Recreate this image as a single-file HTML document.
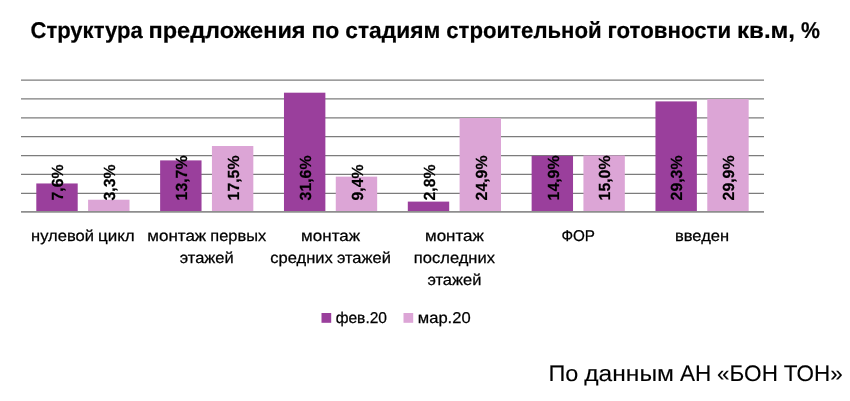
<!DOCTYPE html>
<html lang="ru"><head><meta charset="utf-8"><title>Структура предложения</title>
<style>html,body{margin:0;padding:0;background:#fff}svg{display:block}text{font-family:"Liberation Sans",sans-serif;fill:#000;text-rendering:geometricPrecision}.b{font-weight:bold;stroke:#000;stroke-width:.2px}.r{stroke:#000;stroke-width:.25px}.f{stroke:#000;stroke-width:.1px}</style></head><body>
<svg width="850" height="401" viewBox="0 0 850 401">
<rect width="850" height="401" fill="#fff"/>
<line x1="21.0" x2="764.0" y1="80.10" y2="80.10" stroke="#7c7c7c" stroke-width="1.25"/>
<line x1="21.0" x2="764.0" y1="98.97" y2="98.97" stroke="#7c7c7c" stroke-width="1.25"/>
<line x1="21.0" x2="764.0" y1="117.84" y2="117.84" stroke="#7c7c7c" stroke-width="1.25"/>
<line x1="21.0" x2="764.0" y1="136.71" y2="136.71" stroke="#7c7c7c" stroke-width="1.25"/>
<line x1="21.0" x2="764.0" y1="155.58" y2="155.58" stroke="#7c7c7c" stroke-width="1.25"/>
<line x1="21.0" x2="764.0" y1="174.45" y2="174.45" stroke="#7c7c7c" stroke-width="1.25"/>
<line x1="21.0" x2="764.0" y1="193.32" y2="193.32" stroke="#7c7c7c" stroke-width="1.25"/>
<rect x="36.30" y="183.46" width="41.4" height="27.74" fill="#9a3f9c"/>
<rect x="88.10" y="199.72" width="41.4" height="11.48" fill="#dca5d6"/>
<rect x="160.13" y="160.39" width="41.4" height="50.81" fill="#9a3f9c"/>
<rect x="211.93" y="146.01" width="41.4" height="65.19" fill="#dca5d6"/>
<rect x="283.97" y="92.69" width="41.4" height="118.51" fill="#9a3f9c"/>
<rect x="335.77" y="176.65" width="41.4" height="34.55" fill="#dca5d6"/>
<rect x="407.80" y="201.61" width="41.4" height="9.59" fill="#9a3f9c"/>
<rect x="459.60" y="118.03" width="41.4" height="93.17" fill="#dca5d6"/>
<rect x="531.63" y="155.85" width="41.4" height="55.35" fill="#9a3f9c"/>
<rect x="583.43" y="155.47" width="41.4" height="55.73" fill="#dca5d6"/>
<rect x="655.47" y="101.39" width="41.4" height="109.81" fill="#9a3f9c"/>
<rect x="707.27" y="99.12" width="41.4" height="112.08" fill="#dca5d6"/>
<line x1="21.0" x2="764.0" y1="211.90" y2="211.90" stroke="#8e8e8e" stroke-width="1.6"/>
<text class="b" font-size="16.1" transform="translate(63.30,200.4) rotate(-90)" textLength="35.8" lengthAdjust="spacingAndGlyphs">7,6%</text>
<text class="b" font-size="16.1" transform="translate(115.10,200.4) rotate(-90)" textLength="35.8" lengthAdjust="spacingAndGlyphs">3,3%</text>
<text class="b" font-size="16.1" transform="translate(187.13,200.4) rotate(-90)" textLength="44.9" lengthAdjust="spacingAndGlyphs">13,7%</text>
<text class="b" font-size="16.1" transform="translate(238.93,200.4) rotate(-90)" textLength="44.9" lengthAdjust="spacingAndGlyphs">17,5%</text>
<text class="b" font-size="16.1" transform="translate(310.97,200.4) rotate(-90)" textLength="44.9" lengthAdjust="spacingAndGlyphs">31,6%</text>
<text class="b" font-size="16.1" transform="translate(362.77,200.4) rotate(-90)" textLength="35.8" lengthAdjust="spacingAndGlyphs">9,4%</text>
<text class="b" font-size="16.1" transform="translate(434.80,200.4) rotate(-90)" textLength="35.8" lengthAdjust="spacingAndGlyphs">2,8%</text>
<text class="b" font-size="16.1" transform="translate(486.60,200.4) rotate(-90)" textLength="44.9" lengthAdjust="spacingAndGlyphs">24,9%</text>
<text class="b" font-size="16.1" transform="translate(558.63,200.4) rotate(-90)" textLength="44.9" lengthAdjust="spacingAndGlyphs">14,9%</text>
<text class="b" font-size="16.1" transform="translate(610.43,200.4) rotate(-90)" textLength="44.9" lengthAdjust="spacingAndGlyphs">15,0%</text>
<text class="b" font-size="16.1" transform="translate(682.47,200.4) rotate(-90)" textLength="44.9" lengthAdjust="spacingAndGlyphs">29,3%</text>
<text class="b" font-size="16.1" transform="translate(734.27,200.4) rotate(-90)" textLength="44.9" lengthAdjust="spacingAndGlyphs">29,9%</text>
<text class="b" font-size="22.8" y="38" xml:space="preserve"><tspan x="30.50" textLength="112.16" lengthAdjust="spacingAndGlyphs">Структура</tspan> <tspan x="148.54" textLength="157.04" lengthAdjust="spacingAndGlyphs">предложения</tspan> <tspan x="311.47" textLength="27.91" lengthAdjust="spacingAndGlyphs">по</tspan> <tspan x="345.27" textLength="95.10" lengthAdjust="spacingAndGlyphs">стадиям</tspan> <tspan x="446.25" textLength="155.46" lengthAdjust="spacingAndGlyphs">строительной</tspan> <tspan x="607.60" textLength="123.56" lengthAdjust="spacingAndGlyphs">готовности</tspan> <tspan x="737.05" textLength="58.01" lengthAdjust="spacingAndGlyphs">кв.м,</tspan> <tspan x="800.95" textLength="18.98" lengthAdjust="spacingAndGlyphs">%</tspan></text>
<text class="r" font-size="15.6" y="240.9" xml:space="preserve"><tspan x="31.08" textLength="62.83" lengthAdjust="spacingAndGlyphs">нулевой</tspan> <tspan x="97.95" textLength="36.81" lengthAdjust="spacingAndGlyphs">цикл</tspan></text>
<text class="r" font-size="15.6" y="240.9" xml:space="preserve"><tspan x="147.34" textLength="58.90" lengthAdjust="spacingAndGlyphs">монтаж</tspan> <tspan x="210.28" textLength="55.88" lengthAdjust="spacingAndGlyphs">первых</tspan></text>
<text class="r" font-size="15.6" y="263.1" xml:space="preserve"><tspan x="179.78" textLength="53.95" lengthAdjust="spacingAndGlyphs">этажей</tspan></text>
<text class="r" font-size="15.6" y="240.9" xml:space="preserve"><tspan x="301.13" textLength="58.90" lengthAdjust="spacingAndGlyphs">монтаж</tspan></text>
<text class="r" font-size="15.6" y="263.1" xml:space="preserve"><tspan x="270.27" textLength="62.62" lengthAdjust="spacingAndGlyphs">средних</tspan> <tspan x="336.94" textLength="53.95" lengthAdjust="spacingAndGlyphs">этажей</tspan></text>
<text class="r" font-size="15.6" y="240.9" xml:space="preserve"><tspan x="424.97" textLength="58.90" lengthAdjust="spacingAndGlyphs">монтаж</tspan></text>
<text class="r" font-size="15.6" y="263.1" xml:space="preserve"><tspan x="413.86" textLength="81.11" lengthAdjust="spacingAndGlyphs">последних</tspan></text>
<text class="r" font-size="15.6" y="285.3" xml:space="preserve"><tspan x="427.44" textLength="53.95" lengthAdjust="spacingAndGlyphs">этажей</tspan></text>
<text class="r" font-size="15.6" y="240.9" xml:space="preserve"><tspan x="561.46" textLength="33.58" lengthAdjust="spacingAndGlyphs">ФОР</tspan></text>
<text class="r" font-size="15.6" y="240.9" xml:space="preserve"><tspan x="675.03" textLength="54.11" lengthAdjust="spacingAndGlyphs">введен</tspan></text>
<rect x="321.5" y="313.0" width="9.7" height="9.8" fill="#9a3f9c"/>
<rect x="403.5" y="313.0" width="9.7" height="9.8" fill="#dca5d6"/>
<text class="r" font-size="15.6" x="335.7" y="322.6" textLength="51.3" lengthAdjust="spacingAndGlyphs">фев.20</text>
<text class="r" font-size="15.6" x="417.8" y="322.6" textLength="52.8" lengthAdjust="spacingAndGlyphs">мар.20</text>
<text class="f" font-size="22.4" y="380.6" xml:space="preserve"><tspan x="548.40" textLength="29.92" lengthAdjust="spacingAndGlyphs">По</tspan> <tspan x="584.20" textLength="89.81" lengthAdjust="spacingAndGlyphs">данным</tspan> <tspan x="679.90" textLength="31.29" lengthAdjust="spacingAndGlyphs">АН</tspan> <tspan x="717.08" textLength="60.81" lengthAdjust="spacingAndGlyphs">«БОН</tspan> <tspan x="783.78" textLength="58.89" lengthAdjust="spacingAndGlyphs">ТОН»</tspan></text>
</svg></body></html>
